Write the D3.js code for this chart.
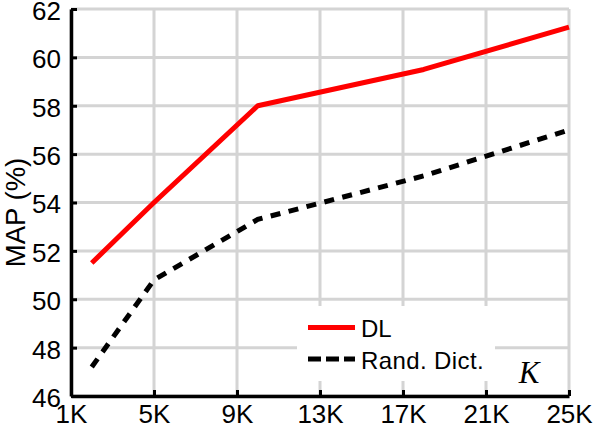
<!DOCTYPE html>
<html>
<head>
<meta charset="utf-8">
<script src="https://cdn.jsdelivr.net/npm/d3@7"></script>
<style>
  html, body { margin: 0; padding: 0; background: #fff; }
  svg { display: block; font-family: "Liberation Sans", Arial, Helvetica, sans-serif; }
</style>
</head>
<body>
<svg id="chart" width="596" height="428"></svg>
<script>
// ---- data ----
const dictSizes = [2, 5, 10, 18, 25];            // K (thousands)
const dlValues = [51.5, 54.0, 58.0, 59.5, 61.25]; // MAP (%)
const randValues = [47.2, 50.8, 53.3, 55.1, 57.0];
const xTicks = [1, 5, 9, 13, 17, 21, 25];
const xTickLabels = ["1K", "5K", "9K", "13K", "17K", "21K", "25K"];
const yTicks = [46, 48, 50, 52, 54, 56, 58, 60, 62];
const seriesNames = ["DL", "Rand. Dict."];
const yLabel = "MAP (%)";
const xLabel = "K";

// ---- layout ----
const plotLeft = 71, plotRight = 569, plotTop = 9, plotBottom = 396;

const svg = d3.select("#chart");
const x = d3.scaleLinear().domain([1, 25]).range([plotLeft, plotRight]);
const y = d3.scaleLinear().domain([46, 62]).range([plotBottom, plotTop]);

const gridColor = "#d4d4d4";

// grid
svg.append("g").selectAll("line").data(yTicks).join("line")
  .attr("x1", plotLeft).attr("x2", plotRight)
  .attr("y1", d => y(d)).attr("y2", d => y(d))
  .attr("stroke", gridColor).attr("stroke-width", 3);
svg.append("g").selectAll("line").data(xTicks).join("line")
  .attr("y1", plotTop).attr("y2", plotBottom)
  .attr("x1", d => x(d)).attr("x2", d => x(d))
  .attr("stroke", gridColor).attr("stroke-width", 3);

// lines
const lineGen = d3.line().x(d => x(d[0])).y(d => y(d[1]));
svg.append("path")
  .datum(d3.zip(dictSizes, randValues))
  .attr("d", lineGen)
  .attr("fill", "none").attr("stroke", "#000").attr("stroke-width", 5)
  .attr("stroke-dasharray", "10,8.5");
svg.append("path")
  .datum(d3.zip(dictSizes, dlValues))
  .attr("d", lineGen)
  .attr("fill", "none").attr("stroke", "#ff0000").attr("stroke-width", 5)
  .attr("stroke-linejoin", "round");

// legend box (white, covers grid)
const lg = svg.append("g");
lg.append("rect").attr("x", 297).attr("y", 306).attr("width", 198).attr("height", 75).attr("fill", "#fff");
lg.append("line").attr("x1", 308).attr("x2", 355).attr("y1", 327.5).attr("y2", 327.5)
  .attr("stroke", "#ff0000").attr("stroke-width", 5);
lg.append("line").attr("x1", 308).attr("x2", 355).attr("y1", 359).attr("y2", 359)
  .attr("stroke", "#000").attr("stroke-width", 5).attr("stroke-dasharray", "13,5");
lg.append("text").attr("x", 361).attr("y", 336.5).attr("font-size", 24).text(seriesNames[0]);
lg.append("text").attr("x", 361).attr("y", 368.5).attr("font-size", 24)
  .attr("letter-spacing", 0.4).text(seriesNames[1]);

// axes
const xAxis = d3.axisBottom(x).tickValues(xTicks).tickSize(-6).tickSizeOuter(0)
  .tickFormat((d, i) => xTickLabels[i]).tickPadding(9);
const gx = svg.append("g").attr("transform", `translate(0,${plotBottom})`).call(xAxis);
gx.select(".domain").attr("stroke", "#000").attr("stroke-width", 3.5);
gx.selectAll(".tick line").attr("stroke", "#000").attr("stroke-width", 3);
gx.selectAll(".tick text").attr("font-size", 26).attr("fill", "#000")
  .attr("font-family", "Liberation Sans, Arial, sans-serif").attr("dy", "0.71em");

const yAxis = d3.axisLeft(y).tickValues(yTicks).tickSize(-6).tickSizeOuter(0).tickPadding(10);
const gy = svg.append("g").attr("transform", `translate(${plotLeft},0)`).call(yAxis);
gy.select(".domain").attr("stroke", "#000").attr("stroke-width", 3.5);
gy.selectAll(".tick line").attr("stroke", "#000").attr("stroke-width", 3);
gy.selectAll(".tick text").attr("font-size", 26).attr("fill", "#000")
  .attr("font-family", "Liberation Sans, Arial, sans-serif").attr("dy", "0.4em");

// axis label
svg.append("text")
  .attr("transform", `translate(25,${(153 + 272) / 2}) rotate(-90)`)
  .attr("text-anchor", "middle").attr("font-size", 27.5).text(yLabel);

// K label
svg.append("text").attr("x", 529).attr("y", 383).attr("text-anchor", "middle")
  .attr("font-family", "Liberation Serif, Times New Roman, serif").attr("font-style", "italic")
  .attr("font-size", 31).text(xLabel);
</script>
</body>
</html>
